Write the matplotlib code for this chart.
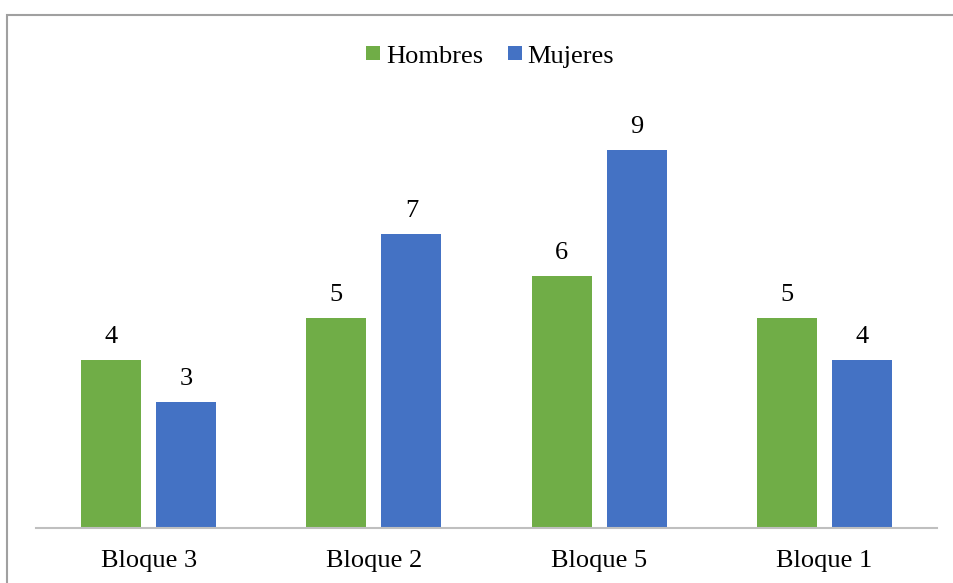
import matplotlib.pyplot as plt
import matplotlib.patches as mpatches
from matplotlib.lines import Line2D
import numpy as np

plt.rcParams.update({
    "font.family": ["Liberation Serif", "DejaVu Serif"],
    "font.size": 19,
})

# ── Data ──────────────────────────────────────────────────────────────────────
bloques = ["Bloque 3", "Bloque 2", "Bloque 5", "Bloque 1"]
hombres = [4, 5, 6, 5]
mujeres = [3, 7, 9, 4]

GREEN = "#70AD47"
BLUE = "#4472C4"
TEXT = "#000000"

W, H = 954, 583
fig = plt.figure(figsize=(W / 100, H / 100), dpi=100)
ax = fig.add_axes([36 / W, 55 / H, 901 / W, 420 / H])

x = np.arange(len(bloques))
width = 0.267
off = 0.1667

b1 = ax.bar(x - off, hombres, width, color=GREEN)
b2 = ax.bar(x + off, mujeres, width, color=BLUE)

for bars, vals in ((b1, hombres), (b2, mujeres)):
    for rect, v in zip(bars, vals):
        ax.annotate(f"{v}", (rect.get_x() + rect.get_width() / 2, v),
                    xytext=(0, 12.5), textcoords="offset points",
                    ha="center", va="baseline", color=TEXT)

ax.set_xlim(-0.5, len(bloques) - 0.5)
ax.set_ylim(0, 10)
ax.set_xticks(x)
ax.set_xticklabels(bloques, color=TEXT)
ax.tick_params(axis="x", length=0, pad=15.5)
ax.set_yticks([])
for side in ("top", "left", "right"):
    ax.spines[side].set_visible(False)
ax.spines["bottom"].set_color("#BFBFBF")
ax.spines["bottom"].set_linewidth(1.5)

handles = [
    Line2D([], [], marker="s", linestyle="none", markersize=9.4,
           markerfacecolor=GREEN, markeredgecolor=GREEN, markeredgewidth=0,
           label="Hombres"),
    Line2D([], [], marker="s", linestyle="none", markersize=9.4,
           markerfacecolor=BLUE, markeredgecolor=BLUE, markeredgewidth=0,
           label="Mujeres"),
]
fig.legend(handles=handles, loc="center", bbox_to_anchor=(490.5 / W, 1 - 56 / H),
           ncol=2, frameon=False, handlelength=0.5, handletextpad=0.23,
           columnspacing=0.95, labelcolor=TEXT, borderpad=0, borderaxespad=0)

# chart area border (runs off the right and bottom edges)
border = mpatches.Rectangle((7.5 / W, -0.2), 1.2, 1.2 - 14.5 / H,
                            transform=fig.transFigure, fill=False,
                            edgecolor="#A0A0A0", linewidth=1.5, clip_on=False)
fig.add_artist(border)

fig.savefig("out.png", dpi=100)
